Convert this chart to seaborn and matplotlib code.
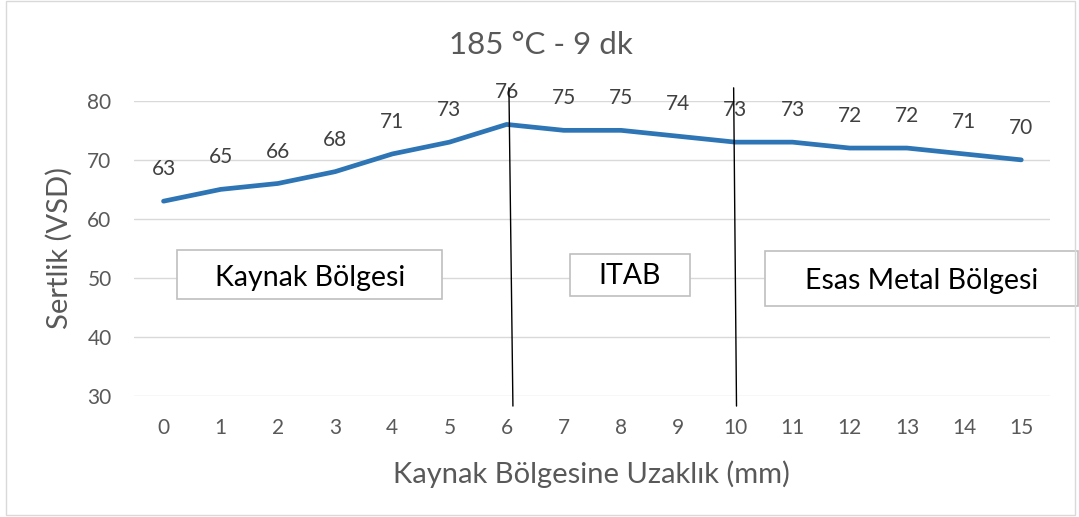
import matplotlib
matplotlib.use("Agg")
import matplotlib.pyplot as plt
import seaborn as sns
import pandas as pd
from matplotlib.patches import Rectangle
from matplotlib.lines import Line2D

distance_mm = list(range(16))
hardness = [63, 65, 66, 68, 71, 73, 76, 75, 75, 74, 73, 73, 72, 72, 71, 70]
y_ticks = [30, 40, 50, 60, 70, 80]
title = "185 °C - 9 dk"
x_label = "Kaynak Bölgesine Uzaklık (mm)"
y_label = "Sertlik (VSD)"
zone_names = ["Kaynak Bölgesi", "ITAB", "Esas Metal Bölgesi"]
zone_text_x = [2.57, 8.15, 13.25]
zone_text_y = [50.0, 50.3, 49.5]
zone_boxes = [(0.24, 46.4, 4.63, 8.35), (7.11, 46.95, 2.09, 7.12), (10.51, 45.3, 5.48, 9.3)]
divider_x = [(6.04, 6.11), (9.97, 10.02)]
divider_y = (82.2, 28.3)

sns.set_theme(style="white")
plt.rcParams['font.family'] = ['Lato', 'DejaVu Sans']

df = pd.DataFrame({"x": distance_mm, "y": hardness})

fig = plt.figure(figsize=(10.79, 5.17), dpi=100)
fig.patch.set_facecolor("white")
ax = fig.add_axes([0.124, 0.234, 0.849, 0.571])

sns.lineplot(data=df, x="x", y="y", ax=ax, color="#2E75B6", linewidth=3.4,
             solid_capstyle="round", solid_joinstyle="round", zorder=3)

ax.set_xlim(-0.52, 15.5)
ax.set_ylim(30, 80)
ax.set_yticks(y_ticks)
ax.set_xticks(distance_mm)
ax.grid(axis="y", color="#d9d9d9", linewidth=1)
ax.grid(axis="x", visible=False)
for s in ax.spines.values():
    s.set_visible(False)
ax.tick_params(axis="both", length=0, labelsize=15, labelcolor="#595959")
ax.tick_params(axis="y", pad=16)
ax.tick_params(axis="x", pad=16)
ax.set_xlabel(x_label, fontsize=21, color="#595959", va="center")
ax.xaxis.set_label_coords(0.5, -0.264)
ax.set_ylabel(y_label, fontsize=21, color="#595959", va="center")
ax.yaxis.set_label_coords(-0.081, 0.5)
fig.text(0.501, 0.913, title, ha="center", va="center", fontsize=22.5, color="#595959")

for xv, yv in zip(distance_mm, hardness):
    ax.annotate(str(yv), (xv, yv), xytext=(0, 23), textcoords="offset points",
                ha="center", va="center", fontsize=15, color="#404040",
                annotation_clip=False, zorder=4)

for (x0, x1) in divider_x:
    ax.add_line(Line2D([x0, x1], list(divider_y), color="black", linewidth=1.0,
                       clip_on=False, zorder=5))

for (bx, by, bw, bh), name, tx, ty in zip(zone_boxes, zone_names, zone_text_x, zone_text_y):
    ax.add_patch(Rectangle((bx, by), bw, bh, facecolor="white", edgecolor="#bfbfbf",
                           linewidth=1.2, clip_on=False, zorder=6))
    ax.text(tx, ty, name, ha="center", va="center", fontsize=20.5, color="black",
            zorder=7, clip_on=False)

fig.add_artist(Rectangle((0.006, 0.004), 0.99, 0.994, transform=fig.transFigure,
                         facecolor="none", edgecolor="#d9d9d9", linewidth=1))

fig.savefig("out.png", dpi=100)
